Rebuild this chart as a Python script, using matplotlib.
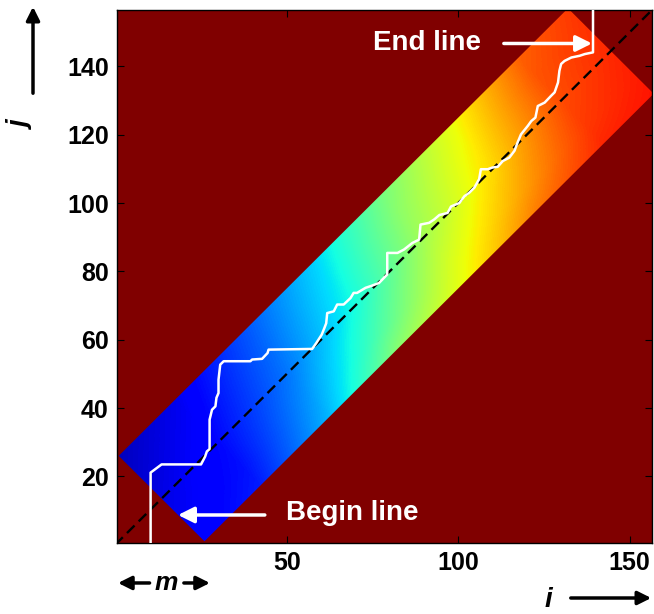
import numpy as np
import matplotlib
matplotlib.use('Agg')
import matplotlib.pyplot as plt
from matplotlib.transforms import Affine2D
from matplotlib.patches import Polygon, FancyArrowPatch

plt.rcParams['font.family'] = ['Liberation Sans', 'DejaVu Sans']
plt.rcParams['font.weight'] = 'bold'

# ---------------- data ----------------
N = 156                 # matrix size
band_half = 25          # m : half width of the band (|j-i| <= m)
begin_sum = 27          # begin line  i + j = begin_sum
end_sum = 289           # end line    i + j = end_sum

# accumulated cost (normalised, jet colour scale) sampled in band coordinates
# s = i + j (along the diagonal), d = j - i (across the band)
s_samples = [20, 60, 100, 140, 180, 220, 260, 300]
d_samples = [-30, -15, 0, 15, 30]
cost = [
    [0.11, 0.16, 0.32, 0.55, 0.66, 0.80, 0.88, 0.90],   # d = -30
    [0.10, 0.14, 0.28, 0.45, 0.61, 0.73, 0.85, 0.89],   # d = -15
    [0.08, 0.13, 0.24, 0.38, 0.55, 0.68, 0.83, 0.88],   # d =   0
    [0.06, 0.11, 0.22, 0.35, 0.52, 0.65, 0.82, 0.87],   # d = +15
    [0.04, 0.09, 0.20, 0.32, 0.48, 0.62, 0.80, 0.86],   # d = +30
]

# warping path
path_i = [10.3, 10.3, 11.5, 13.5, 25.0, 26.2, 26.7, 27.5, 27.5, 28.2, 29.2, 29.5,
          30.1, 30.1, 30.6, 31.6, 39.4, 39.9, 42.8, 44.4, 44.7, 57.4, 58.6, 60.2,
          61.0, 61.5, 61.8, 63.7, 64.7, 66.6, 68.6, 69.5, 70.5, 73.0, 74.5, 76.9,
          79.3, 79.3, 82.3, 84.2, 86.6, 88.6, 89.0, 91.5, 93.0, 94.5, 96.9, 97.9,
          100.3, 101.8, 103.2, 104.7, 106.1, 106.6, 108.6, 110.0, 111.5, 113.0,
          114.9, 116.4, 117.3, 118.3, 120.3, 121.3, 122.5, 123.2, 125.2, 127.1,
          128.1, 129.1, 129.5, 130.0, 131.0, 133.0, 135.4, 136.9, 139.3, 139.3]
path_j = [0.5, 21.1, 22.0, 23.5, 23.5, 25.8, 27.3, 28.0, 36.6, 39.5, 40.5, 43.0,
          44.4, 48.3, 52.7, 53.7, 53.7, 54.2, 54.4, 56.1, 57.1, 57.3, 59.0, 61.5,
          63.5, 64.8, 67.8, 68.3, 70.3, 70.3, 72.2, 73.7, 73.7, 75.2, 75.7, 76.6,
          79.1, 85.4, 85.4, 86.4, 88.3, 89.3, 93.7, 94.2, 95.2, 96.5, 97.1, 99.0,
          100.0, 102.0, 103.0, 104.5, 107.0, 109.9, 109.9, 110.4, 110.6, 112.3,
          113.3, 115.3, 117.7, 120.1, 122.6, 124.0, 125.0, 128.4, 129.4, 131.4,
          132.4, 135.3, 138.7, 140.7, 141.6, 142.6, 143.1, 143.6, 144.1, 156.5]

x_ticks = [50, 100, 150]
y_ticks = [20, 40, 60, 80, 100, 120, 140]

# ---------------- figure ----------------
W, H = 654, 614
fig = plt.figure(figsize=(W / 100, H / 100), dpi=100)
ax = fig.add_axes([117 / W, 71 / H, 535 / W, 533 / H])
cmap = plt.get_cmap('jet')
ax.set_facecolor(cmap(1.0))

ds = s_samples[1] - s_samples[0]
dd = d_samples[1] - d_samples[0]
ext = (s_samples[0] - ds / 2, s_samples[-1] + ds / 2,
       d_samples[0] - dd / 2, d_samples[-1] + dd / 2)
im = ax.imshow(np.array(cost), cmap=cmap, vmin=0, vmax=1, origin='lower',
               extent=ext, interpolation='bilinear', aspect='auto', zorder=1)
im.set_transform(Affine2D([[0.5, -0.5, 0], [0.5, 0.5, 0], [0, 0, 1]]) + ax.transData)

corners_sd = [(begin_sum, band_half), (begin_sum, -band_half),
              (end_sum, -band_half), (end_sum, band_half)]
corners_ij = [((s - d) / 2, (s + d) / 2) for s, d in corners_sd]
band = Polygon(corners_ij, closed=True, transform=ax.transData, facecolor='none',
               edgecolor='none')
ax.add_patch(band)
im.set_clip_path(band)

ax.plot([0, N + 1], [0, N + 1], color='black', lw=1.7, dashes=(4.5, 2.5), zorder=2)
ax.plot(path_i, path_j, color='white', lw=1.8, zorder=3)

ax.set_xlim(0.5, N + 0.5)
ax.set_ylim(0.5, N + 0.5)
ax.set_xticks(x_ticks)
ax.set_yticks(y_ticks)
ax.tick_params(direction='in', top=True, right=True, length=5, width=0.8,
               labelsize=18, pad=6)
for lab in ax.get_xticklabels() + ax.get_yticklabels():
    lab.set_fontweight('bold')
for sp in ax.spines.values():
    sp.set_linewidth(1.0)

# annotations
ax.annotate('', xy=(139.0, 146.7), xytext=(113.3, 146.7),
            arrowprops=dict(arrowstyle='-|>', color='white', lw=2.5,
                            mutation_scale=24, shrinkA=0, shrinkB=0), zorder=5)
ax.text(90.9, 146.7, 'End line', color='white', fontsize=20, fontweight='bold',
        ha='center', va='center', zorder=5)
ax.annotate('', xy=(18.3, 8.7), xytext=(43.6, 8.7),
            arrowprops=dict(arrowstyle='-|>', color='white', lw=2.5,
                            mutation_scale=24, shrinkA=0, shrinkB=0), zorder=5)
ax.text(69.0, 9.3, 'Begin line', color='white', fontsize=20, fontweight='bold',
        ha='center', va='center', zorder=5)

# m indicator below axes
ym = -0.075
ax.annotate('', xy=(0.8, ym), xytext=(10.0, ym), xycoords=('data', 'axes fraction'),
            arrowprops=dict(arrowstyle='-|>', color='black', lw=2.5,
                            mutation_scale=20, shrinkA=0, shrinkB=0),
            annotation_clip=False)
ax.annotate('', xy=(27.6, ym), xytext=(20.0, ym), xycoords=('data', 'axes fraction'),
            arrowprops=dict(arrowstyle='-|>', color='black', lw=2.5,
                            mutation_scale=20, shrinkA=0, shrinkB=0),
            annotation_clip=False)
ax.text(15.0, ym, 'm', transform=ax.get_xaxis_transform(), fontsize=19,
        fontweight='bold', style='italic', ha='center', va='center')

# axis labels with arrows
fig.text(548 / W, 1 - 600 / H, 'i', fontsize=20, fontweight='bold', style='italic',
         ha='center', va='center')
fig.patches.append(FancyArrowPatch((568 / W, 1 - 598 / H), (654 / W, 1 - 598 / H),
                                   transform=fig.transFigure, arrowstyle='-|>',
                                   mutation_scale=20, lw=2.5, color='black'))
fig.text(22 / W, 1 - 125 / H, 'j', fontsize=20, fontweight='bold', style='italic',
         rotation=90, ha='center', va='center')
fig.patches.append(FancyArrowPatch((33 / W, 1 - 96 / H), (33 / W, 1 - 4 / H),
                                   transform=fig.transFigure, arrowstyle='-|>',
                                   mutation_scale=20, lw=2.5, color='black'))

fig.savefig('out.png', dpi=100)
